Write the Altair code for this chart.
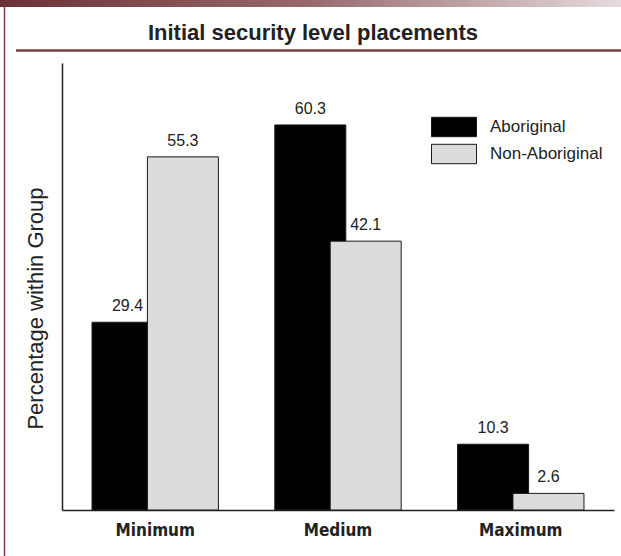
import altair as alt
import pandas as pd

# Security level categories and the share of each group placed at each level (%)
levels = ["Minimum", "Medium", "Maximum"]
aboriginal = [29.4, 60.3, 10.3]
non_aboriginal = [55.3, 42.1, 2.6]
groups = ["Aboriginal", "Non-Aboriginal"]
group_colors = ["#000000", "#dcdcdc"]

rows = []
for series, vals in zip(groups, [aboriginal, non_aboriginal]):
    for lvl, v in zip(levels, vals):
        rows.append({"level": lvl, "group": series, "pct": v})
df = pd.DataFrame(rows)

W, H = 552, 447
PAD_L, PAD_T = 62, 63
MAROON = "#7b4044"
SANS = "Liberation Sans, Arial, Helvetica, sans-serif"
NARROW = "Liberation Sans Narrow, DejaVu Sans Condensed, sans-serif"

x_enc = alt.X(
    "level:N",
    sort=levels,
    scale=alt.Scale(paddingInner=0, paddingOuter=0.01),
    axis=alt.Axis(
        title=None, labelAngle=0, ticks=False, domainColor="#222",
        domainWidth=1.5, labelFont=NARROW, labelFontWeight="bold",
        labelFontSize=17, labelColor="#222", labelPadding=12,
    ),
)
xoff_enc = alt.XOffset(
    "group:N", sort=groups,
    scale=alt.Scale(paddingInner=0, paddingOuter=0.65),
)
y_enc = alt.Y(
    "pct:Q",
    scale=alt.Scale(domain=[0, 70], nice=False, zero=True),
    axis=alt.Axis(
        title="Percentage within Group", labels=False, ticks=False, grid=False,
        domainColor="#222", domainWidth=1.5, titleFont=SANS,
        titleFontWeight="normal", titleFontSize=22, titleColor="#222",
        titlePadding=15, titleY=245,
    ),
)

# Wide rectangular legend swatches (45 x 19 px) from a custom symbol path
bars = alt.Chart(df).mark_bar(width=71, stroke="#1a1a1a", strokeWidth=1).encode(
    x=x_enc,
    xOffset=xoff_enc,
    y=y_enc,
    color=alt.Color(
        "group:N",
        sort=groups,
        scale=alt.Scale(domain=groups, range=group_colors),
        legend=alt.Legend(
            title=None, orient="none", legendX=381.5, legendY=53.5,
            symbolType="M-2.25,-0.97H2.25V0.97H-2.25Z", symbolSize=400,
            symbolStrokeColor="#1a1a1a", symbolStrokeWidth=1,
            labelFont=SANS, labelFontSize=17, labelColor="#222",
            labelOffset=25.5, rowPadding=2, padding=0,
        ),
    ),
)

labels = alt.Chart(df).mark_text(
    baseline="bottom", dy=-8, font=SANS, fontSize=16, color="#222"
).encode(
    x=alt.X("level:N", sort=levels),
    xOffset=alt.XOffset("group:N", sort=groups),
    y="pct:Q",
    text=alt.Text("pct:Q", format=".1f"),
)

one = alt.Data(values=[{}])

# Page decorations: gradient header strip, left margin rule, title underline
strip = alt.Chart(one).mark_rect(
    color=alt.LinearGradient(
        gradient="linear", x1=0, x2=1, y1=0, y2=0,
        stops=[
            alt.GradientStop(offset=0, color="#6a3236"),
            alt.GradientStop(offset=0.5, color="#976a6c"),
            alt.GradientStop(offset=1, color="#e6dcdc"),
        ],
    )
).encode(
    x=alt.value(-PAD_L), x2=alt.value(621 - PAD_L),
    y=alt.value(-PAD_T), y2=alt.value(-PAD_T + 7),
)

left_rule = alt.Chart(one).mark_rule(color=MAROON, strokeWidth=1.5).encode(
    x=alt.value(4.5 - PAD_L), y=alt.value(7 - PAD_T), y2=alt.value(556 - PAD_T)
)

underline = alt.Chart(one).mark_rule(color=MAROON, strokeWidth=2.5).encode(
    x=alt.value(16 - PAD_L), x2=alt.value(621 - PAD_L), y=alt.value(50.5 - PAD_T)
)

chart = alt.layer(strip, left_rule, underline, bars, labels).properties(
    width=W,
    height=H,
    title=alt.TitleParams(
        "Initial security level placements",
        font=SANS, fontSize=22, fontWeight="bold", color="#222",
        anchor="middle", dx=-25, dy=67, offset=0, baseline="bottom",
    ),
    autosize=alt.AutoSizeParams(type="none"),
    padding={"left": PAD_L, "top": PAD_T, "right": 621 - PAD_L - W, "bottom": 556 - PAD_T - H},
    background="white",
).configure_view(stroke=None)

chart.save("out.html", embed_options={"renderer": "svg", "actions": False})
